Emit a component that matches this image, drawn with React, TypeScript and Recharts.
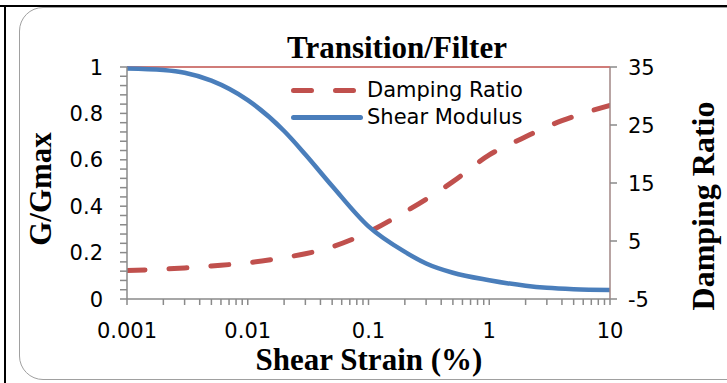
import React from "react"
import { ComposedChart, Legend, Line, ReferenceLine, XAxis, YAxis } from "recharts"

const strain = [0.001, 0.002, 0.003, 0.005, 0.01, 0.02, 0.03, 0.05, 0.1, 0.2, 0.3, 0.5, 1, 2, 3, 5, 10]
const shearModulus = [0.994, 0.987, 0.975, 0.941, 0.857, 0.724, 0.623, 0.487, 0.313, 0.203, 0.153, 0.113, 0.081, 0.057, 0.048, 0.042, 0.039]
const dampingRatio = [-0.1, 0.15, 0.35, 0.7, 1.23, 2.15, 2.8, 4.0, 6.54, 10.0, 12.2, 15.23, 19.83, 22.97, 24.7, 26.45, 28.4]

const strainTicks = [
  0.001, 0.002, 0.003, 0.004, 0.005, 0.006, 0.007, 0.008, 0.009,
  0.01, 0.02, 0.03, 0.04, 0.05, 0.06, 0.07, 0.08, 0.09,
  0.1, 0.2, 0.3, 0.4, 0.5, 0.6, 0.7, 0.8, 0.9,
  1, 2, 3, 4, 5, 6, 7, 8, 9, 10,
]
const strainLabels = [0.001, 0.01, 0.1, 1, 10]
const modulusTicks = [0, 0.04, 0.08, 0.12, 0.16, 0.2, 0.24, 0.28, 0.32, 0.36, 0.4, 0.44, 0.48, 0.52, 0.56, 0.6, 0.64, 0.68, 0.72, 0.76, 0.8, 0.84, 0.88, 0.92, 0.96, 1]
const modulusLabels = [0, 0.2, 0.4, 0.6, 0.8, 1]
const dampingTicks = [-5, 5, 15, 25, 35]

const data = strain.map((s, i) => ({
  strain: s,
  modulus: shearModulus[i],
  damping: dampingRatio[i],
}))

const tickFont = "'DejaVu Sans', sans-serif"
const titleFont = "'Liberation Serif', 'Times New Roman', serif"
const axisGray = "#8a8a8a"
const red = "#c0504d"
const blue = "#4a7ebb"

const isLabel = (list: number[], v: number) => list.some((l) => Math.abs(l - v) < 1e-9 + l * 1e-6)

const StrainTick = (props: any) => {
  const { x, y, payload } = props
  if (!isLabel(strainLabels, payload.value)) return <g />
  return (
    <text x={x} y={y} dy="0.71em" textAnchor="middle" fontSize={21} fontFamily={tickFont} fill="#000">
      {String(payload.value)}
    </text>
  )
}

const ModulusTick = (props: any) => {
  const { x, y, payload } = props
  if (!isLabel(modulusLabels, payload.value)) return <g />
  return (
    <text x={x} y={y} dy="0.36em" textAnchor="end" fontSize={21} fontFamily={tickFont} fill="#000">
      {String(Math.round(payload.value * 10) / 10)}
    </text>
  )
}

const DampingTick = (props: any) => {
  const { x, y, payload } = props
  return (
    <text x={x} y={y} dy="0.36em" textAnchor="start" fontSize={21} fontFamily={tickFont} fill="#000">
      {String(payload.value)}
    </text>
  )
}

const LegendBox = (props: any) => {
  const items = props.payload || []
  return (
    <div style={{ fontFamily: tickFont, fontSize: 21, lineHeight: "27px" }}>
      {items.map((it: any) => (
        <div key={it.value} style={{ display: "flex", alignItems: "center", height: 27 }}>
          <svg width={76} height={27} style={{ display: "block" }}>
            <line
              x1={2.5}
              y1={13.5}
              x2={69.5}
              y2={13.5}
              stroke={it.color}
              strokeWidth={5}
              strokeLinecap="round"
              strokeDasharray={it.value === "Damping Ratio" ? "18 24" : undefined}
            />
          </svg>
          <span style={{ color: "#000" }}>{it.value}</span>
        </div>
      ))}
    </div>
  )
}

export default function App() {
  return (
    <div style={{ position: "absolute", left: 0, top: 0, width: 727, height: 383, background: "#fff", overflow: "hidden" }}>
      <div style={{ position: "absolute", left: 0, top: 5, width: 727, height: 2, background: "#000" }} />
      <div style={{ position: "absolute", left: 4, top: 5, width: 2, height: 383, background: "#000" }} />
      <div
        style={{
          position: "absolute",
          left: 19,
          top: 7,
          width: 760,
          height: 373,
          border: "1.5px solid #a0a0a0",
          borderRadius: 24,
          boxSizing: "border-box",
        }}
      />
      <ComposedChart
        width={727}
        height={383}
        data={data}
        margin={{ top: 67, right: 0, bottom: 0, left: 0 }}
        style={{ position: "absolute", left: 0, top: 0 }}
      >
        <XAxis
          dataKey="strain"
          type="number"
          scale="log"
          domain={[0.001, 10]}
          ticks={strainTicks}
          interval={0}
          allowDataOverflow
          height={84}
          tick={<StrainTick />}
          tickSize={6}
          tickMargin={18}
          axisLine={{ stroke: axisGray, strokeWidth: 1.5 }}
          tickLine={{ stroke: axisGray, strokeWidth: 1.5 }}
        />
        <YAxis
          yAxisId="left"
          orientation="left"
          domain={[0, 1]}
          ticks={modulusTicks}
          interval={0}
          width={127}
          tick={<ModulusTick />}
          tickSize={7}
          tickMargin={17}
          axisLine={{ stroke: axisGray, strokeWidth: 1.5 }}
          tickLine={{ stroke: axisGray, strokeWidth: 1.5 }}
        />
        <YAxis
          yAxisId="right"
          orientation="right"
          domain={[-5, 35]}
          ticks={dampingTicks}
          interval={0}
          width={117}
          tick={<DampingTick />}
          tickSize={7}
          tickMargin={11}
          axisLine={{ stroke: "#a08684", strokeWidth: 1.5 }}
          tickLine={{ stroke: axisGray, strokeWidth: 1.5 }}
        />
        <ReferenceLine yAxisId="left" y={1} stroke={red} strokeWidth={1.5} />
        <Legend
          layout="horizontal"
          verticalAlign="middle"
          align="center"
          content={<LegendBox />}
          wrapperStyle={{ position: "absolute", left: 291, top: 77, width: 260, height: 54 }}
        />
        <Line
          yAxisId="right"
          dataKey="damping"
          name="Damping Ratio"
          type="monotone"
          stroke={red}
          strokeWidth={5}
          strokeDasharray="18 24"
          strokeLinecap="round"
          dot={false}
          isAnimationActive={false}
        />
        <Line
          yAxisId="left"
          dataKey="modulus"
          name="Shear Modulus"
          type="monotone"
          stroke={blue}
          strokeWidth={4.5}
          dot={false}
          isAnimationActive={false}
        />
      </ComposedChart>
      <div
        style={{
          position: "absolute",
          left: 397,
          top: 47,
          transform: "translate(-50%, -50%)",
          fontFamily: titleFont,
          fontWeight: "bold",
          fontSize: 31,
          lineHeight: 1,
          whiteSpace: "nowrap",
        }}
      >
        Transition/Filter
      </div>
      <div
        style={{
          position: "absolute",
          left: 369,
          top: 359,
          transform: "translate(-50%, -50%)",
          fontFamily: titleFont,
          fontWeight: "bold",
          fontSize: 31,
          lineHeight: 1,
          whiteSpace: "nowrap",
        }}
      >
        Shear Strain (%)
      </div>
      <div
        style={{
          position: "absolute",
          left: 40,
          top: 189,
          transform: "translate(-50%, -50%) rotate(-90deg)",
          fontFamily: titleFont,
          fontWeight: "bold",
          fontSize: 31,
          lineHeight: 1,
          whiteSpace: "nowrap",
        }}
      >
        G/Gmax
      </div>
      <div
        style={{
          position: "absolute",
          left: 703,
          top: 206,
          transform: "translate(-50%, -50%) rotate(-90deg)",
          fontFamily: titleFont,
          fontWeight: "bold",
          fontSize: 32,
          lineHeight: 1,
          whiteSpace: "nowrap",
        }}
      >
        Damping Ratio
      </div>
    </div>
  )
}
